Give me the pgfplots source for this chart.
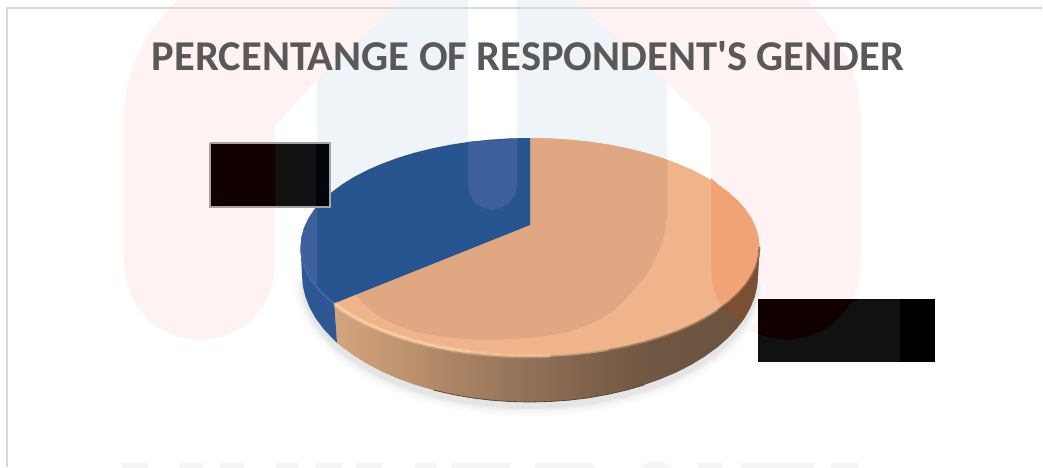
\documentclass[border=0pt]{standalone}
\usepackage{pgfplots}
\usepackage{pgfplotstable}
\usepackage{fontspec}
\setmainfont{Carlito}
\pgfplotsset{compat=1.18}

\definecolor{wmred}{HTML}{FEF2F2}
\definecolor{wmblue}{HTML}{EFF4F9}
\definecolor{wmgray}{HTML}{F5F5F5}
\definecolor{titlegray}{HTML}{5B5858}
\definecolor{peachlit}{HTML}{F0B48A}
\definecolor{peachmid}{HTML}{DFA882}
\definecolor{peachred}{HTML}{EFA377}
\definecolor{bluedeep}{HTML}{28558F}
\definecolor{bluelit}{HTML}{3D5F9C}
\definecolor{bluewall}{HTML}{2E5795}
\definecolor{wA}{HTML}{D4A67E}
\definecolor{wB}{HTML}{B98E6C}
\definecolor{wC}{HTML}{A27D60}
\definecolor{wD}{HTML}{907059}
\definecolor{wE}{HTML}{7D604A}
\definecolor{wF}{HTML}{705743}
\definecolor{wG}{HTML}{69523F}
\definecolor{wallTip}{HTML}{7B4F33}
\definecolor{seam}{HTML}{5C4634}
\definecolor{bevelBlue}{HTML}{3F6AAE}
\definecolor{bevelA}{HTML}{F8D4AC}
\definecolor{bevelB}{HTML}{F6C59B}
\definecolor{bevelBC}{HTML}{DDB28C}
\definecolor{bevelC}{HTML}{B88C68}
\definecolor{bevelD}{HTML}{8A5F40}
\definecolor{boxRed}{HTML}{110000}
\definecolor{boxGray}{HTML}{111111}
\definecolor{boxBlue}{HTML}{00060A}
\definecolor{boxEdge}{HTML}{A6A3A3}
\pgfdeclarehorizontalshading{peachwall}{100bp}{
  color(0bp)=(wA); color(25bp)=(wA); color(35bp)=(wB); color(42bp)=(wC);
  color(48bp)=(wD); color(56bp)=(wE); color(62bp)=(wF); color(75bp)=(wG);
  color(100bp)=(wG)}

% Upper rim of the disc, in 5 degree steps
\pgfplotstableread{
x y
759.5 247
758.6 256.5
756.0 265.9
751.7 275.2
745.7 284.3
738.0 293.1
728.7 301.5
718.0 309.5
705.8 317.1
692.3 324.1
677.5 330.5
661.6 336.3
644.8 341.4
627.0 345.8
608.5 349.4
589.4 352.3
569.8 354.3
550.0 355.6
530 356
510.0 355.6
490.2 354.3
470.6 352.3
451.5 349.4
433.0 345.8
415.2 341.4
398.4 336.3
382.5 330.5
367.7 324.1
354.2 317.1
342.0 309.5
331.3 301.5
322.0 293.1
314.3 284.3
308.3 275.2
304.0 265.9
301.4 256.5
300.5 247
301.4 237.5
304.0 228.1
308.3 218.8
314.3 209.7
322.0 200.9
331.3 192.5
342.0 184.5
354.2 176.9
367.7 169.9
382.5 163.5
398.4 157.7
415.2 152.6
433.0 148.2
451.5 144.6
470.6 141.7
490.2 139.7
510.0 138.4
530 138
550.0 138.4
569.8 139.7
589.4 141.7
608.5 144.6
627.0 148.2
644.8 152.6
661.6 157.7
677.5 163.5
692.3 169.9
705.8 176.9
718.0 184.5
728.7 192.5
738.0 200.9
745.7 209.7
751.7 218.8
756.0 228.1
758.6 237.5
}\toprim

% Lower edge of the disc wall
\pgfplotstableread{
x y
758 275
757.1 286.1
754.5 297
750.2 307.9
744.3 318.4
736.6 328.7
727.5 338.5
716.8 347.8
704.6 356.6
691.2 364.8
676.6 372.3
660.8 379
644 385
626.4 390.1
608 394.3
589 397.7
569.6 400.1
549.9 401.5
530 402
510.1 401.5
490.4 400.1
471 397.7
452 394.3
433.6 390.1
416 385
399.2 379
383.4 372.3
368.8 364.8
355.4 356.6
343.2 347.8
332.5 338.5
323.4 328.7
315.7 318.4
309.8 307.9
305.5 297
302.9 286.1
302 275
}\lowrim

\begin{document}
\begin{tikzpicture}
\begin{axis}[
  scale only axis, width=1043pt, height=468pt,
  xmin=0, xmax=1043, ymin=0, ymax=468, y dir=reverse,
  axis lines=none, clip=true, no markers, every axis plot/.append style={forget plot}]

% white page behind everything
\addplot[draw=none, fill=white] coordinates {(0,0)(1043,0)(1043,468)(0,468)};

% pale emblem behind the chart
\addplot[draw=none, fill=wmred] coordinates {(177,0)(402,0)(317,80)(275,125)(275,265)(274,276)(272,285)(269,294)(265,303)(259,311)(253,318)(246,325)(238,330)(229,334)(220,337)(210,339)(200,340)(190,339)(180,337)(171,334)(162,330)(154,325)(147,318)(141,311)(135,303)(131,294)(128,285)(125,276)(124,265)(124,110)(127,85)(135,60)(150,32)};
\addplot[draw=none, fill=wmred] coordinates {(573,0)(667,83)(711,125)(711,265)(712,276)(714,285)(717,294)(721,303)(727,311)(733,318)(740,325)(748,330)(757,334)(766,337)(776,339)(786,340)(796,339)(806,337)(815,334)(824,330)(832,325)(839,318)(845,311)(851,303)(855,294)(858,285)(859,276)(860,265)(860,110)(857,85)(849,60)(834,32)(808,0)};
\addplot[draw=none, fill=wmblue] coordinates {(402,0)(468,0)(468,186)(470,195)(475,203)(483,208)(492,210)(501,208)(509,203)(515,195)(517,186)(517,0)(573,0)(667,83)(667,300)(317,300)(317,80)};
% faint lettering along the lower edge
\addplot[draw=none, fill=wmgray] coordinates {(122,463)(148,463)(148,468)(122,468)};
\addplot[draw=none, fill=wmgray] coordinates {(179,463)(203,463)(203,468)(179,468)};
\addplot[draw=none, fill=wmgray] coordinates {(220,463)(244,463)(244,468)(220,468)};
\addplot[draw=none, fill=wmgray] coordinates {(276,463)(298,463)(298,468)(276,468)};
\addplot[draw=none, fill=wmgray] coordinates {(315,463)(342,463)(342,468)(315,468)};
\addplot[draw=none, fill=wmgray] coordinates {(356,463)(382,463)(382,468)(356,468)};
\addplot[draw=none, fill=wmgray] coordinates {(415,463)(437,463)(437,468)(415,468)};
\addplot[draw=none, fill=wmgray] coordinates {(451,463)(510,463)(510,468)(451,468)};
\addplot[draw=none, fill=wmgray] coordinates {(535,463)(590,463)(597,468)(535,468)};
\addplot[draw=none, fill=wmgray] coordinates {(640,468)(650,461)(662,461)(672,468)};
\addplot[draw=none, fill=wmgray] coordinates {(698,463)(722,463)(722,468)(698,468)};
\addplot[draw=none, fill=wmgray] coordinates {(741,463)(814,463)(814,468)(741,468)};
\addplot[draw=none, fill=wmgray] coordinates {(831,463)(858,463)(858,468)(831,468)};

% chart frame
\addplot[color=black!15, line width=1.6pt] coordinates {(7,467)(7,8)(1042,8)};

% soft shadow under the disc
\addplot[fill=black!2, draw=black!2, line width=16pt, yshift=-6pt] table[x=x,y=y] {\lowrim};
\addplot[fill=black!4, draw=black!4, line width=10pt, yshift=-6pt] table[x=x,y=y] {\lowrim};
\addplot[fill=black!7, draw=black!7, line width=5pt, yshift=-6pt] table[x=x,y=y] {\lowrim};
\addplot[fill=black!10, draw=black!10, line width=1pt, yshift=-6pt] table[x=x,y=y] {\lowrim};

% disc wall
\addplot[draw=none, shade, shading=peachwall] coordinates {(758,275)(757.1,286.1)(754.5,297)(750.2,307.9)(744.3,318.4)(736.6,328.7)(727.5,338.5)(716.8,347.8)(704.6,356.6)(691.2,364.8)(676.6,372.3)(660.8,379)(644,385)(626.4,390.1)(608,394.3)(589,397.7)(569.6,400.1)(549.9,401.5)(530,402)(510.1,401.5)(490.4,400.1)(471,397.7)(452,394.3)(433.6,390.1)(416,385)(399.2,379)(383.4,372.3)(368.8,364.8)(355.4,356.6)(343.2,347.8)(337,343)(334,300)(530,247)(759.5,247)};
\addplot[draw=none, fill=bluewall] coordinates {(300.5,247)(302,275)(302.9,286.1)(305.5,297)(309.8,307.9)(315.7,318.4)(323.4,328.7)(332.5,338.5)(337,343)(334,300)(400,250)};
\addplot[draw=none, fill=wallTip] coordinates {(722,308)(759.5,247)(758,275)(757.1,286.1)(754.5,297)(750.2,307.9)(744.3,318.4)(741,323)};
% dark seam along the foot of the wall
\addplot[color=seam, line width=0.8pt] coordinates {(433.6,390.1)(452,394.3)(471,397.7)(490.4,400.1)(510.1,401.5)(530,402)(549.9,401.5)(569.6,400.1)(589,397.7)(608,394.3)(626.4,390.1)(644,385)};

% top face, pale part
\addplot[draw=none, fill=peachlit] table[x=x,y=y] {\toprim};
% tinted part of the top face
\addplot[draw=none, fill=peachmid] coordinates {(530,138)(550,138.4)(569.8,139.7)(589.4,141.7)(608.5,144.6)(627,148.2)(644.8,152.6)(661.6,157.7)(667,159.6)(667,215)(665,232)(660,248)(654,262)(647,274)(639,284)(630,294)(622,303)(613,311)(602,318)(590,324)(577,329)(563,333)(547,336)(530,338)(492,340)(463,339)(437,336)(421,333)(407,329)(394,324)(382,318)(371,310)(362,302)(354,293)(530,225)};
\addplot[draw=none, fill=peachred] coordinates {(711,178)(718,184.5)(728.7,192.5)(738,200.9)(745.7,209.7)(751.7,218.8)(756,228.1)(758.6,237.5)(759.5,247)(758.6,256.5)(756,265.9)(751.7,275.2)(745.7,284.3)(738,293.1)(728.7,301.5)(722,306)(716,296)(712,280)(711,265)};

% blue slice
\addplot[draw=none, fill=bluedeep] coordinates {(530,225)(530,138)(510,138.4)(490.2,139.7)(470.6,141.7)(451.5,144.6)(433,148.2)(415.2,152.6)(398.4,157.7)(382.5,163.5)(367.7,169.9)(354.2,176.9)(342,184.5)(331.3,192.5)(322,200.9)(314.3,209.7)(308.3,218.8)(304,228.1)(301.4,237.5)(300.5,247)(301.4,256.5)(304,265.9)(308.3,275.2)(314.3,284.3)(322,293.1)(331.3,301.5)(335,303)};
\addplot[draw=none, fill=bluelit] coordinates {(468,142)(517,138.9)(517,186)(515,195)(509,203)(501,208)(492,210)(483,208)(475,203)(470,195)(468,186)};
\addplot[draw=none, fill=bluelit] coordinates {(317,206)(314.3,209.7)(308.3,218.8)(304,228.1)(301.4,237.5)(300.5,247)(301.4,256.5)(304,265.9)(308.3,275.2)(314.3,284.3)(317,287.5)};

% bevel along the front of the rim, a wide faint stroke under a narrow one
\addplot[color=bevelBlue, line width=2.2pt, opacity=.8] coordinates {(301,250)(304,265.9)(308.3,275.2)(314.3,284.3)(322,293.1)(331.3,301.5)};
\addplot[color=bevelA, line width=5pt, opacity=.3] coordinates {(335,304)(342,309.5)(354.2,317.1)(367.7,324.1)(382.5,330.5)(398.4,336.3)(415.2,341.4)(433,345.8)(451.5,349.4)(470.6,352.3)};
\addplot[color=bevelA, line width=2.5pt, opacity=.75] coordinates {(335,304)(342,309.5)(354.2,317.1)(367.7,324.1)(382.5,330.5)(398.4,336.3)(415.2,341.4)(433,345.8)(451.5,349.4)(470.6,352.3)};
\addplot[color=bevelB, line width=5pt, opacity=.3] coordinates {(470.6,352.3)(490.2,354.3)(510,355.6)(530,356)(550,355.6)};
\addplot[color=bevelB, line width=2.5pt, opacity=.7] coordinates {(470.6,352.3)(490.2,354.3)(510,355.6)(530,356)(550,355.6)};
\addplot[color=bevelBC, line width=2.2pt, opacity=.65] coordinates {(550,355.8)(569.8,354.6)(589.4,352.6)(608.5,349.7)};
\addplot[color=bevelC, line width=2pt, opacity=.6] coordinates {(608.5,349.9)(627,346.3)(644.8,341.9)(661.6,336.8)(677.5,331)(692.3,324.6)(705.8,317.6)(718,310)};
\addplot[color=bevelD, line width=2pt, opacity=.7] coordinates {(718,310)(728.7,302)(738,293.6)(745.7,284.8)(751.7,275.7)(756,266.4)(758.6,257)(759.5,247)};

% boxes covering the data labels
\addplot[draw=none, fill=boxRed] coordinates {(210,143)(275,143)(275,207)(210,207)};
\addplot[draw=none, fill=boxGray] coordinates {(275,143)(316,143)(316,207)(275,207)};
\addplot[draw=none, fill=boxBlue] coordinates {(316,143)(330,143)(330,207)(316,207)};
\addplot[color=boxEdge, line width=1.6pt] coordinates {(210,143)(330,143)(330,207)(210,207)(210,143)};
\addplot[draw=none, fill=boxGray] coordinates {(758,299)(900,299)(900,362)(758,362)};
\addplot[draw=none, fill=black] coordinates {(900,299)(935,299)(935,362)(900,362)};
\addplot[draw=none, fill=boxRed] coordinates {(758,299)(860,299)(851,303)(839,318)(824,330)(806,337)(786,340)(766,337)(758,333)};

\node[font=\bfseries\fontsize{42.5}{46}\selectfont, text=titlegray, anchor=center] at (axis cs:528,56) {PERCENTANGE OF RESPONDENT\textquotesingle S GENDER};
\end{axis}
\end{tikzpicture}
\end{document}
